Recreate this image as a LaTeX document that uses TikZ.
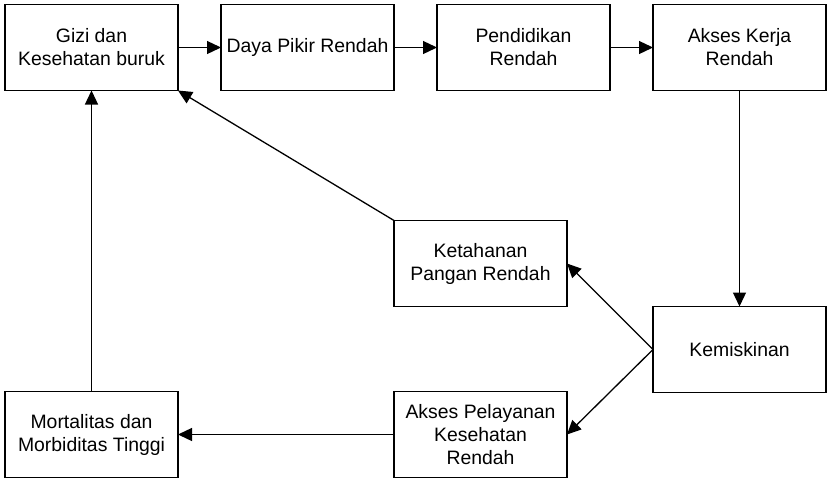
\documentclass[tikz,border=0pt]{standalone}
\usepackage{fontspec}
\setmainfont{Liberation Sans}
\usepackage{tikz}
\usetikzlibrary{
    positioning,
    arrows.meta
}
\tikzset{
    box/.style={
        rectangle, draw, line width=1.3pt,
        minimum width=173pt, minimum height=86pt,
        inner sep=0pt, outer sep=0pt, align=center,
        font=\fontsize{19.4}{23}\selectfont
    },
    arrow/.style={
        -{Triangle[length=14pt,width=13pt]}, line width=1.3pt
    }
}

\begin{document}
\begin{tikzpicture}[x=1pt, y=-1pt, node distance=43pt]

    \useasboundingbox (0,0) rectangle (828,480);

    % --- TOP ROW ---
    \node[box] (gizi) at (91.5,47.5) {Gizi dan\\Kesehatan buruk};
    \node[box, right=of gizi] (daya) {Daya Pikir Rendah};
    \node[box, right=of daya] (didik) {Pendidikan\\Rendah};
    \node[box, right=of didik] (kerja) {Akses Kerja\\Rendah};

    % --- MIDDLE / BOTTOM ---
    \node[box, below=216pt of kerja] (miskin) {Kemiskinan};
    \node[box] (pangan) at (480.5,263.5) {Ketahanan\\Pangan Rendah};
    \node[box, below=85pt of pangan] (layanan) {Akses Pelayanan\\Kesehatan\\Rendah};
    \node[box, left=216pt of layanan] (mortal) {Mortalitas dan\\Morbiditas Tinggi};

    % --- ARROWS ---
    \draw[arrow] (gizi) -- (daya);
    \draw[arrow] (daya) -- (didik);
    \draw[arrow] (didik) -- (kerja);
    \draw[arrow] (kerja) -- (miskin);
    \draw[arrow] (miskin.west) -- (pangan.east);
    \draw[arrow] (miskin.west) -- (layanan.east);
    \draw[arrow] (pangan.north west) -- (gizi.south east);
    \draw[arrow] (layanan) -- (mortal);
    \draw[arrow] (mortal) -- (gizi);

\end{tikzpicture}
\end{document}
